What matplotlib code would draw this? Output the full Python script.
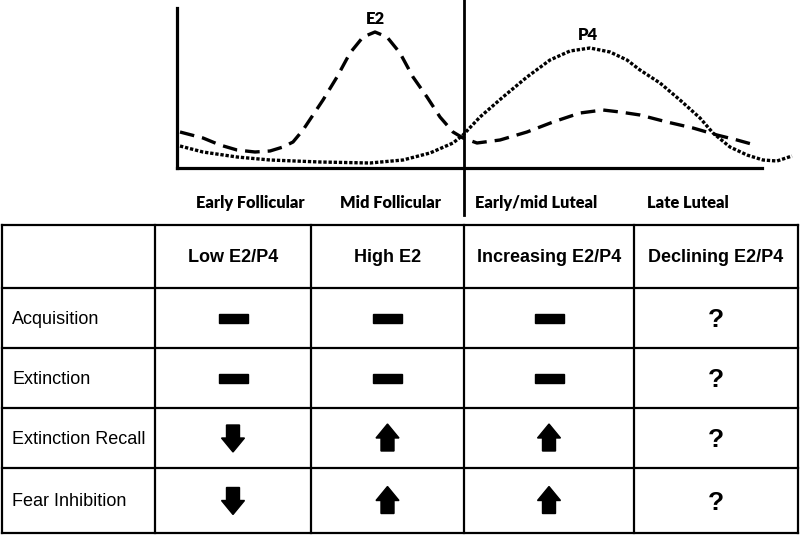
import matplotlib
matplotlib.use("Agg")
import matplotlib.pyplot as plt
from matplotlib.patches import Polygon, Rectangle

# hormone curves: cycle position vs relative level
E2_X = [3, 26, 43, 60, 78, 93, 106, 116, 126, 136, 146, 160, 173, 186, 198, 210, 223, 236,
        250, 263, 276, 286, 300, 323, 350, 376, 403, 426, 443, 463, 490, 516, 540, 560, 578]
E2_Y = [36, 30, 23, 18, 16, 17, 21, 26, 38, 53, 68, 91, 115, 131, 136, 131, 115, 91,
        71, 51, 36, 30, 25, 28, 36, 46, 55, 58, 56, 53, 46, 40, 33, 28, 23]
P4_X = [3, 26, 60, 93, 143, 193, 226, 253, 276, 286, 303, 326, 350, 373, 393, 413, 433,
        450, 463, 483, 503, 523, 536, 553, 570, 586, 600, 615]
P4_Y = [22, 16, 11, 8, 6, 5, 8, 15, 25, 33, 51, 71, 91, 108, 117, 120, 116,
        108, 98, 85, 68, 50, 35, 21, 13, 8, 7, 12]

PHASES = ["Early Follicular", "Mid Follicular", "Early/mid Luteal", "Late Luteal"]
COL_LABELS = ["Low E2/P4", "High E2", "Increasing E2/P4", "Declining E2/P4"]
ROW_LABELS = ["Acquisition", "Extinction", "Extinction Recall", "Fear Inhibition"]
EFFECTS = [["none", "none", "none", "?"],
           ["none", "none", "none", "?"],
           ["down", "up", "up", "?"],
           ["down", "up", "up", "?"]]

W, H = 800, 536
fig = plt.figure(figsize=(W / 100, H / 100), dpi=100)

# overlay in pixel units for table and labels
ov = fig.add_axes([0, 0, 1, 1])
ov.set_xlim(0, W); ov.set_ylim(H, 0); ov.axis("off")

# curve panel
ax = fig.add_axes([177 / W, (H - 168) / H, 623 / W, 160 / H])
ax.patch.set_alpha(0)
ax.set_xlim(0, 623); ax.set_ylim(0, 160)
ax.plot(E2_X, E2_Y, color="black", lw=2.4, ls=(0, (4.4, 2.4)), clip_on=False)
ax.plot(P4_X, P4_Y, color="black", lw=2.4, ls=(0, (1, 0.55)), clip_on=False)
for s in ["top", "right"]:
    ax.spines[s].set_visible(False)
for s in ["left", "bottom"]:
    ax.spines[s].set_linewidth(2.3)
ax.spines["bottom"].set_bounds(0, 585)
ax.set_xticks([]); ax.set_yticks([])
ax.text(198, 149, "E2", ha="center", va="center", fontsize=12, fontweight="heavy", family="Lato")
ax.text(411, 133, "P4", ha="center", va="center", fontsize=12, fontweight="heavy", family="Lato")

# follicular / luteal divider
ov.plot([464, 464], [0, 215], color="black", lw=2.0)

phase_x = [250, 390, 536, 688]
for x, lab in zip(phase_x, PHASES):
    ov.text(x, 203, lab, ha="center", va="center", fontsize=11.8, fontweight="heavy", family="Lato")

# table grid
col_edges = [2, 155, 311, 464, 634, 798]
row_edges = [225, 288, 348, 408, 468, 533]
for x in col_edges:
    ov.plot([x, x], [row_edges[0], row_edges[-1]], color="black", lw=1.6, solid_capstyle="projecting")
for y in row_edges:
    ov.plot([col_edges[0], col_edges[-1]], [y, y], color="black", lw=1.6, solid_capstyle="projecting")

tfont = ["Liberation Sans", "DejaVu Sans"]
hy = (row_edges[0] + row_edges[1]) / 2
for j, lab in enumerate(COL_LABELS):
    cx = (col_edges[j + 1] + col_edges[j + 2]) / 2
    ov.text(cx, hy + 1, lab, ha="center", va="center", fontsize=13, fontweight="bold", family=tfont)

for i, lab in enumerate(ROW_LABELS):
    cy = (row_edges[i + 1] + row_edges[i + 2]) / 2
    ov.text(12, cy + 1, lab, ha="left", va="center", fontsize=13, family=tfont)
    for j, eff in enumerate(EFFECTS[i]):
        cx = (col_edges[j + 1] + col_edges[j + 2]) / 2
        if eff == "none":
            ov.add_patch(Rectangle((cx - 14.5, cy - 4.5), 29, 9, color="black"))
        elif eff in ("up", "down"):
            s = -1 if eff == "up" else 1
            pts = [(cx - 6.5, cy - s * 13), (cx + 6.5, cy - s * 13), (cx + 6.5, cy),
                   (cx + 11.5, cy), (cx, cy + s * 14), (cx - 11.5, cy), (cx - 6.5, cy)]
            ov.add_patch(Polygon(pts, closed=True, color="black"))
        else:
            ov.text(cx, cy + 2, eff, ha="center", va="center", fontsize=19, fontweight="bold", family=tfont)

fig.savefig("out.png", dpi=100)
